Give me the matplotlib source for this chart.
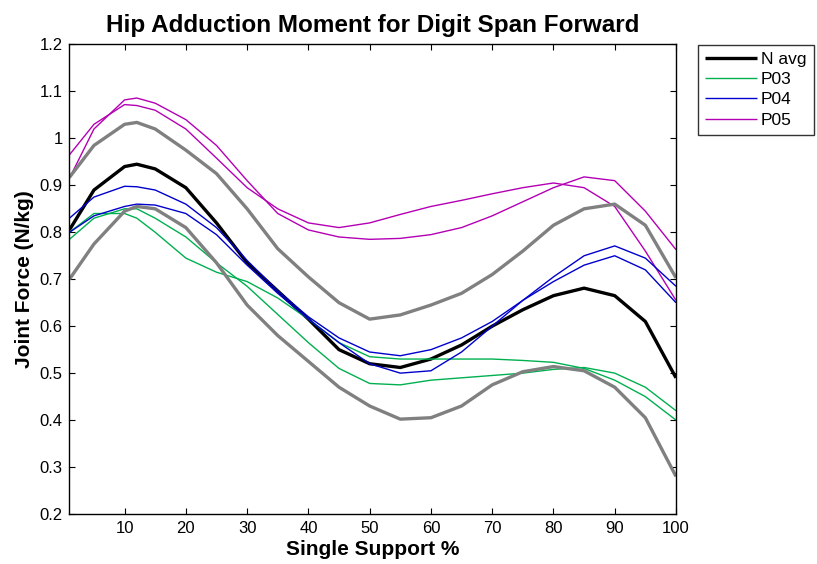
import numpy as np
import matplotlib.pyplot as plt

plt.rcParams['font.family'] = ['Liberation Sans', 'DejaVu Sans']

# values, single support % on x
x = [1, 5, 10, 12, 15, 20, 25, 30, 35, 40, 45, 50, 55, 60, 65, 70, 75, 80, 85, 90, 95, 100]

n_avg = [0.805, 0.89, 0.94, 0.945, 0.935, 0.895, 0.82, 0.735, 0.675, 0.615, 0.55, 0.52,
         0.512, 0.53, 0.56, 0.60, 0.635, 0.665, 0.681, 0.665, 0.61, 0.49]
n_upper = [0.917, 0.985, 1.03, 1.034, 1.02, 0.975, 0.925, 0.85, 0.765, 0.705, 0.65, 0.615,
           0.624, 0.645, 0.67, 0.71, 0.76, 0.815, 0.85, 0.86, 0.815, 0.703]
n_lower = [0.70, 0.775, 0.845, 0.855, 0.85, 0.81, 0.735, 0.645, 0.58, 0.525, 0.47, 0.43,
           0.402, 0.405, 0.43, 0.475, 0.503, 0.514, 0.505, 0.47, 0.405, 0.28]

p03_a = [0.80, 0.84, 0.84, 0.83, 0.80, 0.745, 0.715, 0.695, 0.66, 0.615, 0.565, 0.535,
         0.53, 0.53, 0.53, 0.53, 0.527, 0.523, 0.51, 0.485, 0.45, 0.40]
p03_b = [0.785, 0.83, 0.85, 0.85, 0.83, 0.79, 0.735, 0.685, 0.625, 0.565, 0.51, 0.478,
         0.475, 0.485, 0.49, 0.495, 0.50, 0.508, 0.512, 0.50, 0.47, 0.42]

p04_a = [0.83, 0.875, 0.898, 0.897, 0.89, 0.86, 0.81, 0.74, 0.675, 0.62, 0.575, 0.545,
         0.537, 0.55, 0.575, 0.61, 0.655, 0.695, 0.73, 0.75, 0.72, 0.65]
p04_b = [0.80, 0.835, 0.855, 0.86, 0.858, 0.84, 0.795, 0.73, 0.67, 0.615, 0.565, 0.52,
         0.50, 0.505, 0.545, 0.60, 0.655, 0.705, 0.75, 0.771, 0.745, 0.685]

p05_a = [0.965, 1.03, 1.072, 1.07, 1.06, 1.02, 0.958, 0.895, 0.85, 0.82, 0.81, 0.82,
         0.838, 0.855, 0.868, 0.882, 0.895, 0.905, 0.895, 0.855, 0.76, 0.655]
p05_b = [0.915, 1.02, 1.082, 1.086, 1.075, 1.04, 0.985, 0.91, 0.84, 0.805, 0.79, 0.785,
         0.787, 0.795, 0.81, 0.835, 0.865, 0.895, 0.918, 0.91, 0.845, 0.763]

green = '#00b050'
blue = '#0000cc'
magenta = '#b400b4'
gray = '#808080'

fig = plt.figure(figsize=(8.17, 5.64), dpi=100)
ax = fig.add_axes([0.085, 0.0887, 0.7424, 0.8324])

kw = dict(solid_joinstyle='round', solid_capstyle='butt')
ax.plot(x, n_avg, color='black', lw=2.4, label='N avg', **kw)
ax.plot(x, p03_a, color=green, lw=1.0, label='P03', **kw)
ax.plot(x, p04_a, color=blue, lw=1.0, label='P04', **kw)
ax.plot(x, p05_a, color=magenta, lw=1.0, label='P05', **kw)
ax.plot(x, p03_b, color=green, lw=1.0, **kw)
ax.plot(x, p04_b, color=blue, lw=1.0, **kw)
ax.plot(x, p05_b, color=magenta, lw=1.0, **kw)
ax.plot(x, n_upper, color=gray, lw=2.4, **kw)
ax.plot(x, n_lower, color=gray, lw=2.4, **kw)

ax.set_xlim(1, 100)
ax.set_ylim(0.2, 1.2)
ax.set_xticks(range(10, 101, 10))
yt = np.round(np.arange(0.2, 1.21, 0.1), 1)
ax.set_yticks(yt)
ax.set_yticklabels(['%g' % v for v in yt])
ax.tick_params(direction='in', top=True, right=True, length=4, width=0.8,
               labelsize=12, pad=5)
for s in ax.spines.values():
    s.set_linewidth(1.0)

ax.set_title('Hip Adduction Moment for Digit Span Forward', fontsize=17.5, fontweight='bold', pad=9)
ax.set_xlabel('Single Support %', fontsize=15, fontweight='bold', labelpad=3)
ax.set_ylabel('Joint Force (N/kg)', fontsize=15, fontweight='bold', labelpad=4)

leg = fig.legend(loc='upper left', bbox_to_anchor=(0.854, 0.921), fontsize=12.5,
                 frameon=True, fancybox=False, edgecolor='black', handlelength=3.0,
                 borderpad=0.4, labelspacing=0.3, handletextpad=0.25, borderaxespad=0)
leg.get_frame().set_linewidth(1.0)

fig.savefig('out.png', dpi=100)
